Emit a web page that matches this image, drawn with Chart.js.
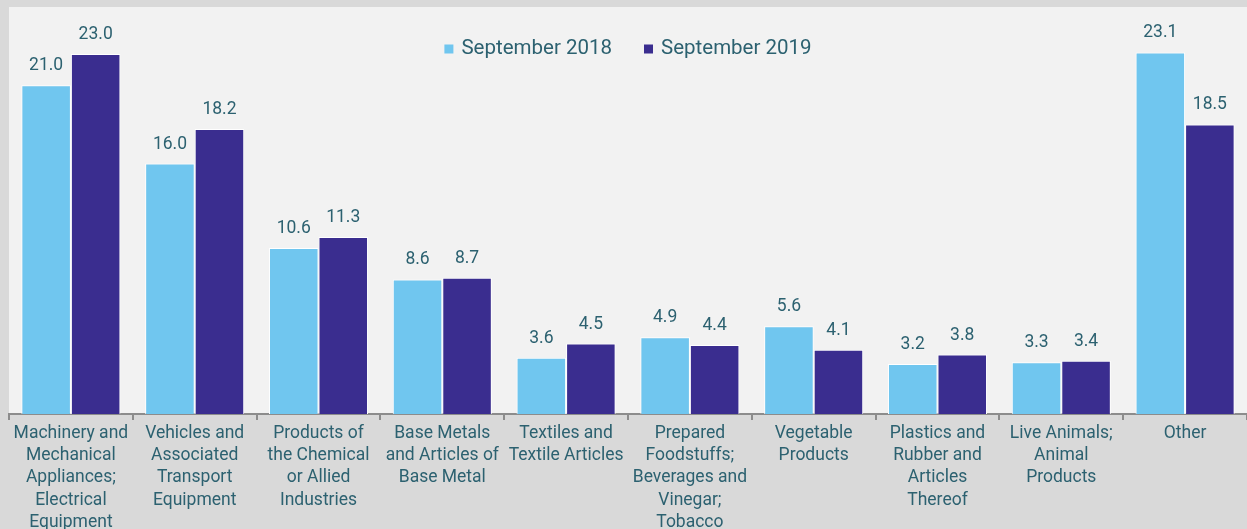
<!DOCTYPE html>
<html>
<head>
<meta charset="utf-8">
<script src="https://cdn.jsdelivr.net/npm/chart.js@4.4.1/dist/chart.umd.min.js"></script>
<style>
    html, body { margin: 0; padding: 0; background: #d9d9d9; }
    #wrap { width: 1247px; height: 529px; position: relative; }
</style>
</head>
<body>
<div id="wrap"><canvas id="trade_chart"></canvas></div>
<script>
// categories, wrapped as in the picture
const categories = [
    ["Machinery and", "Mechanical", "Appliances;", "Electrical", "Equipment"],
    ["Vehicles and", "Associated", "Transport", "Equipment"],
    ["Products of", "the Chemical", "or Allied", "Industries"],
    ["Base Metals", "and Articles of", "Base Metal"],
    ["Textiles and", "Textile Articles"],
    ["Prepared", "Foodstuffs;", "Beverages and", "Vinegar;", "Tobacco"],
    ["Vegetable", "Products"],
    ["Plastics and", "Rubber and", "Articles", "Thereof"],
    ["Live Animals;", "Animal", "Products"],
    ["Other"]
];
const sep2018 = [21.0, 16.0, 10.6, 8.6, 3.6, 4.9, 5.6, 3.2, 3.3, 23.1];
const sep2019 = [23.0, 18.2, 11.3, 8.7, 4.5, 4.4, 4.1, 3.8, 3.4, 18.5];

const textColor = '#2c6170';
const fontFamily = 'Roboto, "DejaVu Sans", sans-serif';

// background panels: gray frame + light plot panel
const panelPlugin = {
    id: 'panel',
    beforeDraw(chart) {
        const c = chart.ctx;
        c.save();
        c.fillStyle = '#d9d9d9';
        c.fillRect(0, 0, chart.width, chart.height);
        c.fillStyle = '#f2f2f2';
        c.fillRect(chart.chartArea.left, 7, chart.chartArea.right - chart.chartArea.left, chart.chartArea.bottom - 7);
        c.restore();
    }
};

// value labels above each bar
const valueLabels = {
    id: 'valueLabels',
    afterDatasetsDraw(chart) {
        const c = chart.ctx;
        c.save();
        c.font = '17.5px ' + fontFamily;
        c.fillStyle = textColor;
        c.textAlign = 'center';
        c.textBaseline = 'alphabetic';
        chart.data.datasets.forEach(function (ds, i) {
            chart.getDatasetMeta(i).data.forEach(function (bar, j) {
                c.fillText(ds.data[j].toFixed(1), bar.x, bar.y - 15);
            });
        });
        c.restore();
    }
};

// legend drawn inside the plot panel, centred near the top
const insideLegend = {
    id: 'insideLegend',
    afterDraw(chart) {
        const c = chart.ctx;
        const box = 9, gapText = 8, gapItem = 32;
        c.save();
        c.font = '20.5px ' + fontFamily;
        c.textBaseline = 'middle';
        c.textAlign = 'left';
        let total = 0;
        const widths = chart.data.datasets.map(function (ds) {
            return c.measureText(ds.label).width;
        });
        widths.forEach(function (w, i) {
            total += box + gapText + w + (i > 0 ? gapItem : 0);
        });
        const midY = 49;
        let x = (chart.chartArea.left + chart.chartArea.right) / 2 - total / 2;
        chart.data.datasets.forEach(function (ds, i) {
            c.fillStyle = ds.backgroundColor;
            c.fillRect(x, midY - box / 2, box, box);
            x += box + gapText;
            c.fillStyle = textColor;
            c.fillText(ds.label, x, midY);
            x += widths[i] + gapItem;
        });
        c.restore();
    }
};

let ctx = document.getElementById('trade_chart').getContext('2d');
const tradeChart = new Chart(ctx, {
    type: 'bar',
    data: {
        labels: categories,
        datasets: [{
            label: 'September 2018',
            data: sep2018,
            backgroundColor: '#70c6ef',
            borderColor: '#ffffff',
            borderWidth: 1
        }, {
            label: 'September 2019',
            data: sep2019,
            backgroundColor: '#3a2d8f',
            borderColor: '#ffffff',
            borderWidth: 1
        }]
    },
    options: {
        responsive: true,
        maintainAspectRatio: false,
        animation: false,
        categoryPercentage: 0.8,
        barPercentage: 1.0,
        layout: { padding: { left: 9, top: 7, right: 0, bottom: 0 } },
        plugins: {
            legend: { display: false },
            tooltip: { enabled: false }
        },
        scales: {
            x: {
                afterFit(scale) { scale.height = 115; },
                grid: {
                    offset: true,
                    drawOnChartArea: false,
                    drawTicks: true,
                    tickLength: 6,
                    color: '#8c8c8c',
                    lineWidth: 2
                },
                border: { color: '#8c8c8c', width: 2 },
                ticks: {
                    color: textColor,
                    padding: 2,
                    maxRotation: 0,
                    autoSkip: false,
                    font: { family: fontFamily, size: 17.5, lineHeight: 1.28 }
                }
            },
            y: {
                display: false,
                min: 0,
                max: 26
            }
        }
    },
    plugins: [panelPlugin, valueLabels, insideLegend]
});
</script>
</body>
</html>
